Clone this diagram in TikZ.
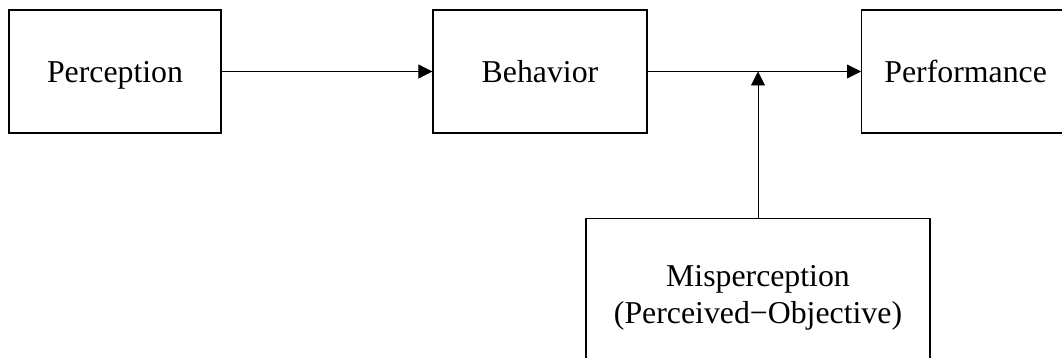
\documentclass[tikz,border=0pt]{standalone}
\usepackage{fontspec}
\setmainfont{Liberation Serif}
\usetikzlibrary{positioning,arrows.meta}

\tikzset{
	stagebox/.style={draw=black, line width=1.3pt, rectangle, inner sep=0pt,
		minimum width=214pt, minimum height=123pt, align=center,
		font=\fontsize{31.8}{37}\selectfont},
	oneline/.style={text height=29pt, text depth=6pt},
	flow/.style={draw=black, line width=0.8pt, -{Triangle[length=14pt,width=14pt]}}
}

\begin{document}
\begin{tikzpicture}[x=1pt,y=1pt]
			\useasboundingbox (0,0) rectangle (1062,-358);
			\clip (0,0) rectangle (1062,-358);
			% top row
			\node [stagebox, oneline, minimum width=212pt] (perc) at (115,-71.5) {Perception};
			\node [stagebox, oneline] (beh) at (540,-71.5) {Behavior};
			\node [stagebox, oneline, anchor=west] (perf) at (861,-71.5) {\hspace*{-6pt}Performance};
			% moderator
			\node [stagebox, minimum width=344pt, minimum height=158pt, anchor=north] (misp) at (758,-218) {Misperception\\(Perceived−Objective)};
			\coordinate (join) at (misp.north |- beh.east);
			\draw [flow] (perc.east) -- (beh.west);
			\draw [flow] (beh.east) -- (perf.west);
			\draw [flow] (misp.north) -- (join);
\end{tikzpicture}
\end{document}
